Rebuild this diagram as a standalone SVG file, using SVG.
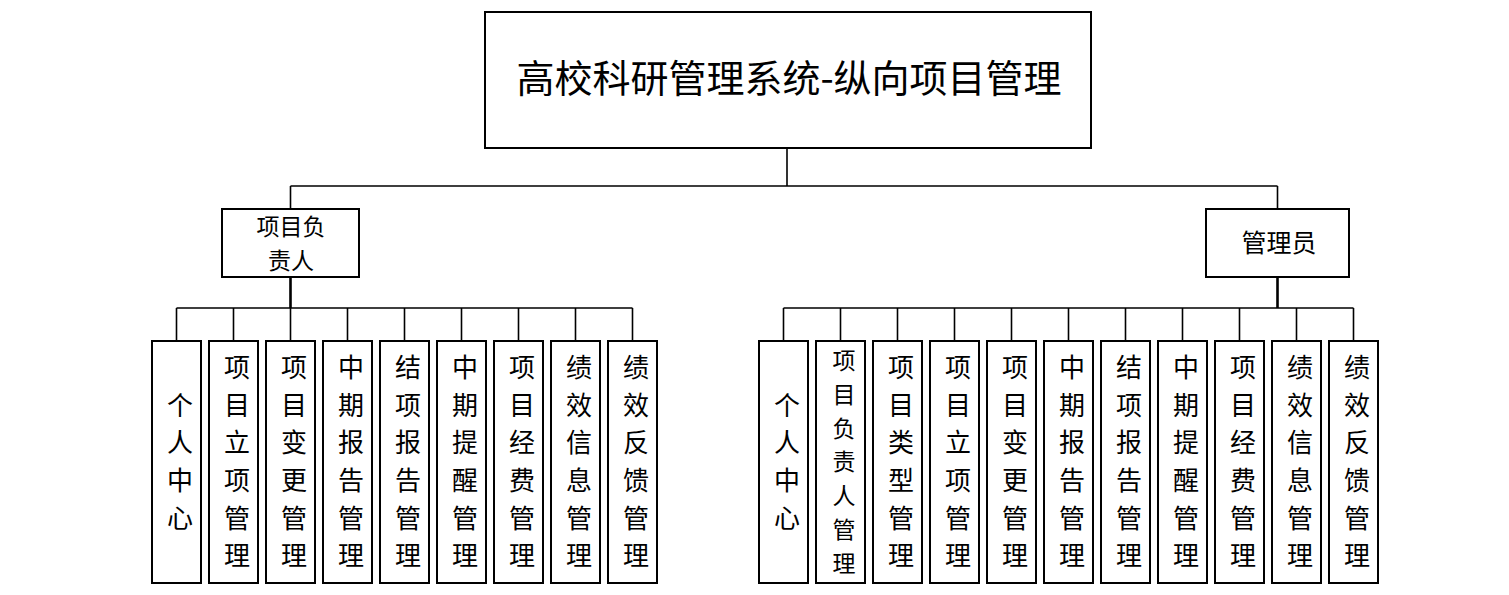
<svg xmlns="http://www.w3.org/2000/svg" width="1509" height="595" viewBox="0 0 1509 595">
<style>
.box{fill:#fff;stroke:#000;stroke-width:2}
.ln{fill:none;stroke:#000;stroke-width:1.6}
.thk{fill:none;stroke:#000;stroke-width:2.6}
text{font-family:"Noto Sans CJK SC","Noto Sans",sans-serif;fill:#000}
.t{font-size:38px;text-anchor:middle}
.r{font-size:25px;text-anchor:middle}
.r2{font-size:23px;text-anchor:middle}
.v{font-size:26px;text-anchor:middle}
.s{font-size:23px;text-anchor:middle}
</style>
<rect width="1509" height="595" fill="#fff"/>
<g id="connectors">
<path class="ln" d="M787 148V186M290.5 186H1277.5M290.5 186V209M1277.5 186V209"/>
<path class="thk" d="M290.5 277V308M1277.5 277V308"/>
<path class="ln" d="M176.5 308H632.5M176.5 308V341M233.5 308V341M290.5 308V341M347.5 308V341M404.5 308V341M461.5 308V341M518.5 308V341M575.5 308V341M632.5 308V341"/>
<path class="ln" d="M783.5 308H1353.5M783.5 308V341M840.5 308V341M897.5 308V341M954.5 308V341M1011.5 308V341M1068.5 308V341M1125.5 308V341M1182.5 308V341M1239.5 308V341M1296.5 308V341M1353.5 308V341"/>
</g>
<g id="root"><rect class="box" x="485" y="12" width="606" height="136"/><text class="t" x="789" y="92">高校科研管理系统-纵向项目管理</text></g>
<g id="leader"><rect class="box" x="222" y="209" width="137" height="68"/><text class="r2" x="291" y="235">项目负</text><text class="r2" x="291" y="269">责人</text></g>
<g id="admin"><rect class="box" x="1206" y="209" width="143" height="68"/><text class="r" x="1279" y="252">管理员</text></g>

<g id="l1"><rect class="box" x="152" y="341" width="49" height="242"/><text class="v"><tspan x="180" y="415">个</tspan><tspan x="180" y="452">人</tspan><tspan x="180" y="490">中</tspan><tspan x="180" y="528">心</tspan></text></g>
<g id="l2"><rect class="box" x="209" y="341" width="49" height="242"/><text class="v"><tspan x="237" y="377">项</tspan><tspan x="237" y="415">目</tspan><tspan x="237" y="452">立</tspan><tspan x="237" y="490">项</tspan><tspan x="237" y="528">管</tspan><tspan x="237" y="565">理</tspan></text></g>
<g id="l3"><rect class="box" x="266" y="341" width="49" height="242"/><text class="v"><tspan x="294" y="377">项</tspan><tspan x="294" y="415">目</tspan><tspan x="294" y="452">变</tspan><tspan x="294" y="490">更</tspan><tspan x="294" y="528">管</tspan><tspan x="294" y="565">理</tspan></text></g>
<g id="l4"><rect class="box" x="323" y="341" width="49" height="242"/><text class="v"><tspan x="351" y="377">中</tspan><tspan x="351" y="415">期</tspan><tspan x="351" y="452">报</tspan><tspan x="351" y="490">告</tspan><tspan x="351" y="528">管</tspan><tspan x="351" y="565">理</tspan></text></g>
<g id="l5"><rect class="box" x="380" y="341" width="49" height="242"/><text class="v"><tspan x="408" y="377">结</tspan><tspan x="408" y="415">项</tspan><tspan x="408" y="452">报</tspan><tspan x="408" y="490">告</tspan><tspan x="408" y="528">管</tspan><tspan x="408" y="565">理</tspan></text></g>
<g id="l6"><rect class="box" x="437" y="341" width="49" height="242"/><text class="v"><tspan x="465" y="377">中</tspan><tspan x="465" y="415">期</tspan><tspan x="465" y="452">提</tspan><tspan x="465" y="490">醒</tspan><tspan x="465" y="528">管</tspan><tspan x="465" y="565">理</tspan></text></g>
<g id="l7"><rect class="box" x="494" y="341" width="49" height="242"/><text class="v"><tspan x="522" y="377">项</tspan><tspan x="522" y="415">目</tspan><tspan x="522" y="452">经</tspan><tspan x="522" y="490">费</tspan><tspan x="522" y="528">管</tspan><tspan x="522" y="565">理</tspan></text></g>
<g id="l8"><rect class="box" x="551" y="341" width="49" height="242"/><text class="v"><tspan x="579" y="377">绩</tspan><tspan x="579" y="415">效</tspan><tspan x="579" y="452">信</tspan><tspan x="579" y="490">息</tspan><tspan x="579" y="528">管</tspan><tspan x="579" y="565">理</tspan></text></g>
<g id="l9"><rect class="box" x="608" y="341" width="49" height="242"/><text class="v"><tspan x="636" y="377">绩</tspan><tspan x="636" y="415">效</tspan><tspan x="636" y="452">反</tspan><tspan x="636" y="490">馈</tspan><tspan x="636" y="528">管</tspan><tspan x="636" y="565">理</tspan></text></g>

<g id="r1"><rect class="box" x="759" y="341" width="49" height="242"/><text class="v"><tspan x="787" y="415">个</tspan><tspan x="787" y="452">人</tspan><tspan x="787" y="490">中</tspan><tspan x="787" y="528">心</tspan></text></g>
<g id="r2"><rect class="box" x="816" y="341" width="49" height="242"/><text class="s"><tspan x="844" y="369">项</tspan><tspan x="844" y="403">目</tspan><tspan x="844" y="437">负</tspan><tspan x="844" y="470">责</tspan><tspan x="844" y="504">人</tspan><tspan x="844" y="538">管</tspan><tspan x="844" y="572">理</tspan></text></g>
<g id="r3"><rect class="box" x="873" y="341" width="49" height="242"/><text class="v"><tspan x="901" y="377">项</tspan><tspan x="901" y="415">目</tspan><tspan x="901" y="452">类</tspan><tspan x="901" y="490">型</tspan><tspan x="901" y="528">管</tspan><tspan x="901" y="565">理</tspan></text></g>
<g id="r4"><rect class="box" x="930" y="341" width="49" height="242"/><text class="v"><tspan x="958" y="377">项</tspan><tspan x="958" y="415">目</tspan><tspan x="958" y="452">立</tspan><tspan x="958" y="490">项</tspan><tspan x="958" y="528">管</tspan><tspan x="958" y="565">理</tspan></text></g>
<g id="r5"><rect class="box" x="987" y="341" width="49" height="242"/><text class="v"><tspan x="1015" y="377">项</tspan><tspan x="1015" y="415">目</tspan><tspan x="1015" y="452">变</tspan><tspan x="1015" y="490">更</tspan><tspan x="1015" y="528">管</tspan><tspan x="1015" y="565">理</tspan></text></g>
<g id="r6"><rect class="box" x="1044" y="341" width="49" height="242"/><text class="v"><tspan x="1072" y="377">中</tspan><tspan x="1072" y="415">期</tspan><tspan x="1072" y="452">报</tspan><tspan x="1072" y="490">告</tspan><tspan x="1072" y="528">管</tspan><tspan x="1072" y="565">理</tspan></text></g>
<g id="r7"><rect class="box" x="1101" y="341" width="49" height="242"/><text class="v"><tspan x="1129" y="377">结</tspan><tspan x="1129" y="415">项</tspan><tspan x="1129" y="452">报</tspan><tspan x="1129" y="490">告</tspan><tspan x="1129" y="528">管</tspan><tspan x="1129" y="565">理</tspan></text></g>
<g id="r8"><rect class="box" x="1158" y="341" width="49" height="242"/><text class="v"><tspan x="1186" y="377">中</tspan><tspan x="1186" y="415">期</tspan><tspan x="1186" y="452">提</tspan><tspan x="1186" y="490">醒</tspan><tspan x="1186" y="528">管</tspan><tspan x="1186" y="565">理</tspan></text></g>
<g id="r9"><rect class="box" x="1215" y="341" width="49" height="242"/><text class="v"><tspan x="1243" y="377">项</tspan><tspan x="1243" y="415">目</tspan><tspan x="1243" y="452">经</tspan><tspan x="1243" y="490">费</tspan><tspan x="1243" y="528">管</tspan><tspan x="1243" y="565">理</tspan></text></g>
<g id="r10"><rect class="box" x="1272" y="341" width="49" height="242"/><text class="v"><tspan x="1300" y="377">绩</tspan><tspan x="1300" y="415">效</tspan><tspan x="1300" y="452">信</tspan><tspan x="1300" y="490">息</tspan><tspan x="1300" y="528">管</tspan><tspan x="1300" y="565">理</tspan></text></g>
<g id="r11"><rect class="box" x="1329" y="341" width="49" height="242"/><text class="v"><tspan x="1357" y="377">绩</tspan><tspan x="1357" y="415">效</tspan><tspan x="1357" y="452">反</tspan><tspan x="1357" y="490">馈</tspan><tspan x="1357" y="528">管</tspan><tspan x="1357" y="565">理</tspan></text></g>
</svg>
